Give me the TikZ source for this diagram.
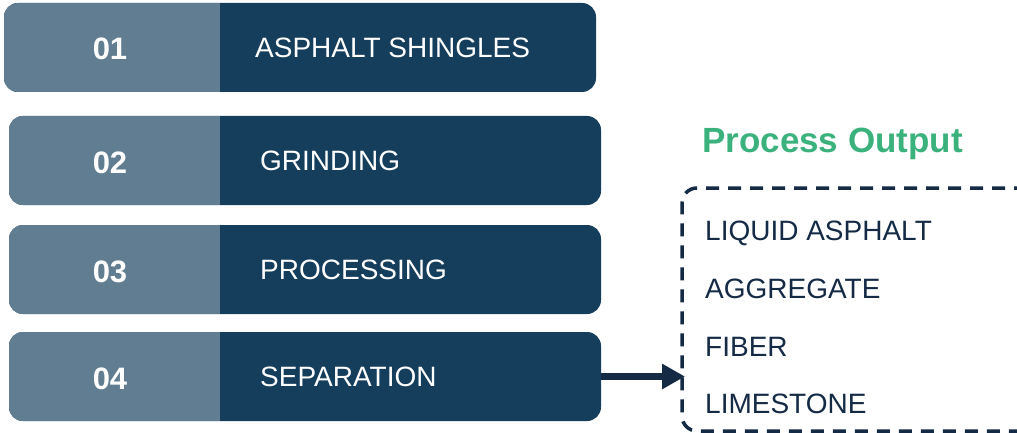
\documentclass[tikz,border=0pt]{standalone}
\usepackage{fontspec}
\setmainfont{Liberation Sans}
\usetikzlibrary{arrows.meta}
\definecolor{barlight}{HTML}{607D91}
\definecolor{bardark}{HTML}{153D5C}
\definecolor{navy}{HTML}{142A45}
\definecolor{outgreen}{HTML}{3BB27C}
\tikzset{
	bar/.style={fill=bardark, rounded corners=14pt, minimum width=592pt, minimum height=89pt, inner sep=0pt, outer sep=0pt, anchor=north west,
		path picture={\fill[barlight, sharp corners] (path picture bounding box.south west) rectangle ([xshift=#1]path picture bounding box.north west);}},
	num/.style={text=white, font=\fontsize{31}{36}\selectfont\bfseries, anchor=base, inner sep=0pt},
	lbl/.style={text=white, font=\fontsize{28}{34}\selectfont, anchor=base west, inner sep=0pt},
	item/.style={text=navy, font=\fontsize{28}{34}\selectfont, anchor=base west, inner sep=0pt},
	outbox/.style={draw=navy, line width=3.5pt, dash pattern=on 13pt off 9pt, rounded corners=15pt, minimum width=360pt, minimum height=243pt, outer sep=0pt, anchor=north west},
	arrow/.style={draw=navy, line width=7pt, -{Triangle[length=23pt,width=24pt]}}
}
\begin{document}
\begin{tikzpicture}[x=1pt, y=-1pt, line join=round]
	\useasboundingbox (0,0) rectangle (1017,433);
	\clip (0,0) rectangle (1017,433);
	% cac buoc
	\foreach \i/\x/\y/\t in {1/4/3/ASPHALT SHINGLES, 2/9/116/GRINDING, 3/9/225/PROCESSING, 4/9/332/SEPARATION}{
		\pgfmathsetmacro\w{220-\x}
		\node[bar=\w pt] (b\i) at (\x,\y) {};
		\node[num] (n\i) at (110,\y+57) {0\i};
		\node[lbl] (l\i) at ([xshift=251pt,yshift=-10pt]b\i.west) {\t};
	}
	% ket qua
	\node[outbox] (out) at (682,188) {};
	\node[font=\fontsize{35}{40}\selectfont\bfseries, text=outgreen, anchor=base west, inner sep=0pt] (title) at (702,153) {Process Output};
	\foreach \i/\y/\t in {1/240/LIQUID ASPHALT, 2/298/AGGREGATE, 3/356/FIBER, 4/413/LIMESTONE}
		\node[item] (o\i) at (705,\y) {\t};
	\draw[arrow] (b4.east) -- ([xshift=3pt]b4.east -| out.west);
\end{tikzpicture}
\end{document}
